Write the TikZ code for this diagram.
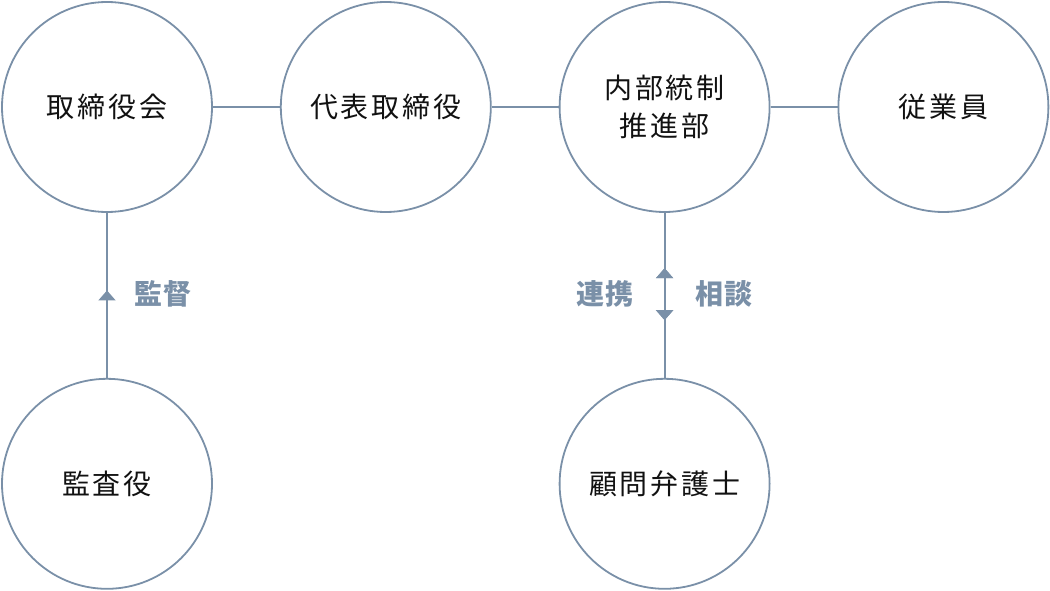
\documentclass[tikz,border=0pt]{standalone}
\usepackage{fontspec}
\usepackage{tikz}
\usetikzlibrary{arrows.meta,positioning,decorations.markings}
\newfontfamily\jpfont[LetterSpace=10]{Noto Sans CJK JP}
\newfontfamily\jplabel[LetterSpace=3]{Noto Sans CJK JP}
\definecolor{orgline}{HTML}{7A90A8}
\definecolor{orgtext}{HTML}{7A90A8}
\definecolor{orgink}{HTML}{111111}
\tikzset{
  orgcircle/.style={
    draw=orgline,
    circle,
    line width=1.8pt,
    minimum size=210pt,
    inner sep=0pt,
    align=center,
    text=orgink,
    font=\jpfont\fontsize{28pt}{38pt}\selectfont
  },
  orglink/.style={draw=orgline, line width=1.8pt},
  orgtag/.style={text=orgtext, inner sep=0pt, font=\jplabel\bfseries\fontsize{28pt}{30pt}\selectfont},
  uptip/.style={postaction={decorate}, decoration={markings,
      mark=at position #1 with {\arrow{Triangle[width=17pt,length=10pt]}}}},
  downtip/.style={postaction={decorate}, decoration={markings,
      mark=at position #1 with {\arrowreversed{Triangle[width=17pt,length=10pt]}}}}
}

\begin{document}
\begin{tikzpicture}[node distance=165pt and 67pt]
\useasboundingbox (0,0) rectangle (1050pt,590pt);
\node[orgcircle] (board) at (107pt,483pt) {取締役会};
\node[orgcircle, right=of board] (ceo) {代表取締役};
\node[orgcircle, right=of ceo] (control) {内部統制\\推進部};
\node[orgcircle, right=of control] (staff) {従業員};

\node[orgcircle, below=of board] (auditor) {監査役};
\node[orgcircle, below=of control] (lawyer) {顧問弁護士};

\draw[orglink] (board) -- (ceo);
\draw[orglink] (ceo) -- (control);
\draw[orglink] (control) -- (staff);
\draw[orglink, uptip=0.53] (auditor) -- (board);
\draw[orglink, uptip=0.665, downtip=0.35] (lawyer) -- (control);

\node[orgtag] (watch) at (163pt,296pt) {監督};
\node[orgtag] (link) at (605pt,296pt) {連携};
\node[orgtag] (consult) at (724pt,296pt) {相談};
\end{tikzpicture}
\end{document}
